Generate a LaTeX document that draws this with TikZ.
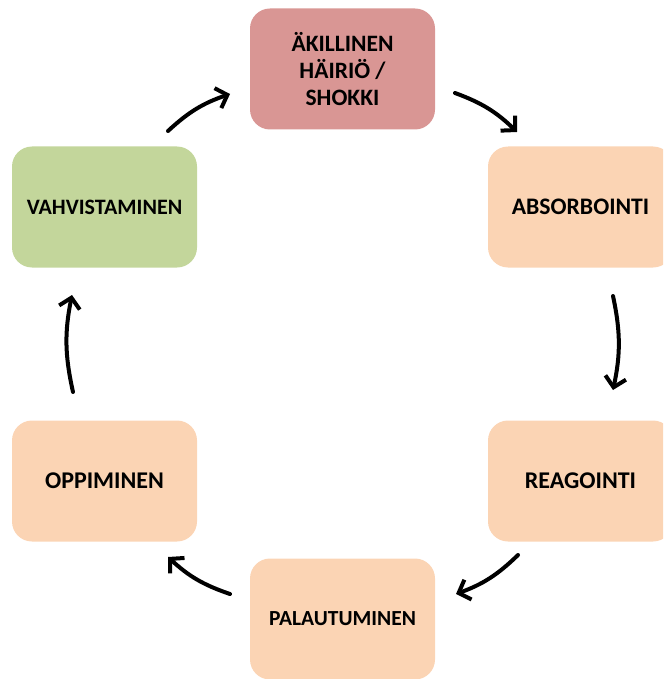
\documentclass[tikz,border=0pt]{standalone}
\usepackage{fontspec}
\setmainfont{Carlito}
\usetikzlibrary{arrows.meta}

\definecolor{shockred}{HTML}{D99694}
\definecolor{stagepeach}{HTML}{FBD4B4}
\definecolor{stagegreen}{HTML}{C3D69B}

\tikzset{
  stage/.style={rounded corners=20pt, minimum width=185pt, minimum height=121pt,
    inner sep=0pt, align=center, text=black},
  cycarrow/.style={line width=4pt, -{Straight Barb[length=10pt,width=21pt]}, bend left=12}
}

\begin{document}
\begin{tikzpicture}[x=1pt, y=-1pt, line cap=round, line join=round]

\clip (0,0) rectangle (663,679);

% --- Stages ---
\node[stage, fill=shockred, font=\bfseries\fontsize{23.5}{27}\selectfont] (shock) at (342.5,69) {ÄKILLINEN\\HÄIRIÖ /\\SHOKKI};
\node[stage, fill=stagepeach, font=\bfseries\fontsize{23.7}{28}\selectfont] (absorb) at (580.5,207) {ABSORBOINTI};
\node[stage, fill=stagepeach, font=\bfseries\fontsize{24}{28}\selectfont] (react) at (580.5,481) {REAGOINTI};
\node[stage, fill=stagepeach, font=\bfseries\fontsize{21.5}{26}\selectfont] (recover) at (342.5,619) {PALAUTUMINEN};
\node[stage, fill=stagepeach, font=\bfseries\fontsize{24}{28}\selectfont] (learn) at (104.5,481) {OPPIMINEN};
\node[stage, fill=stagegreen, font=\bfseries\fontsize{22}{26}\selectfont] (confirm) at (104.5,207) {VAHVISTAMINEN};

% --- Arrow ends ---
\coordinate (a1s) at (455,93);  \coordinate (a1e) at (517,132);
\coordinate (a2s) at (613,296); \coordinate (a2e) at (613,390);
\coordinate (a3s) at (518,555); \coordinate (a3e) at (456,594);
\coordinate (a4s) at (230,594); \coordinate (a4e) at (168,557);
\coordinate (a5s) at (73,392);  \coordinate (a5e) at (72,295);
\coordinate (a6s) at (168,131); \coordinate (a6e) at (230,94);

% --- Arrows ---
\draw[cycarrow] (a1s) to (a1e);
\draw[cycarrow] (a2s) to (a2e);
\draw[cycarrow] (a3s) to (a3e);
\draw[cycarrow] (a4s) to (a4e);
\draw[cycarrow] (a5s) to (a5e);
\draw[cycarrow] (a6s) to (a6e);

\end{tikzpicture}
\end{document}
